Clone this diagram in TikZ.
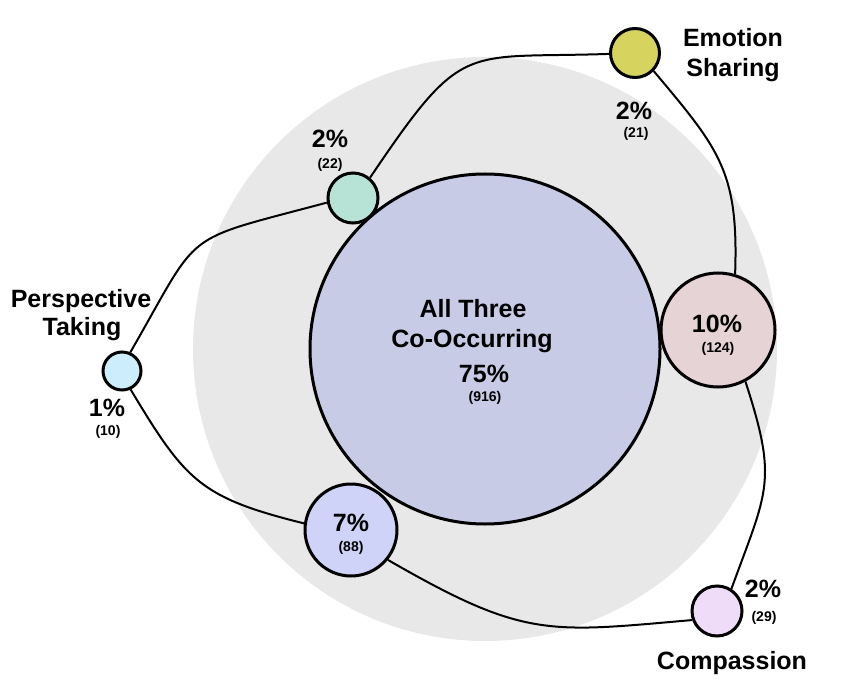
\documentclass[tikz,border=0pt]{standalone}
\usepackage{fontspec}
\setmainfont{Liberation Sans}

\definecolor{ringgray}{HTML}{E8E8E8}
\definecolor{allblue}{HTML}{C8CBE6}
\definecolor{emoyellow}{HTML}{D6D45E}
\definecolor{teal2}{HTML}{B7E3D6}
\definecolor{perblue}{HTML}{CCEEFC}
\definecolor{sevenblue}{HTML}{D0D3F8}
\definecolor{tenrose}{HTML}{E5D3D5}
\definecolor{complilac}{HTML}{EEDCF8}

\begin{document}
\begin{tikzpicture}
        [x=1pt,y=1pt,
        circ/.style={circle,draw,line width=3pt,inner sep=0pt},
        big/.style={font=\fontsize{25}{30}\selectfont\bfseries,anchor=base,inner sep=0pt},
        small/.style={font=\fontsize{14}{16}\selectfont\bfseries,anchor=base,inner sep=0pt},
        link/.style={line width=2pt}]
        \useasboundingbox (0,0) rectangle (845,697);

        % background ring and centre
        \fill[ringgray] (485,348) circle (292);
        \draw[line width=3pt,fill=allblue] (485,348) circle (175);

        % one circle per combination
        \node[circ,fill=emoyellow,minimum size=49pt] (em) at (635,644) {};
        \node[circ,fill=teal2,minimum size=50pt] (tl) at (353,499) {};
        \node[circ,fill=perblue,minimum size=38pt] (pt) at (122,326) {};
        \node[circ,fill=sevenblue,minimum size=92pt] (ch7) at (351,167) {};
        \node[circ,fill=tenrose,minimum size=114pt] (ch10) at (718,367) {};
        \node[circ,fill=complilac,minimum size=50pt] (cp) at (717,86) {};

        \draw[link] (em.182) to[out=182,in=56,out looseness=1.4,in looseness=1.6] (tl.50);
        \draw[link] (tl.190) to[out=195,in=60,out looseness=1.6,in looseness=1.5] (pt.66);
        \draw[link] (pt.-65) to[out=-59,in=166,looseness=1.25] (ch7.172);
        \draw[link] (ch7.-39) to[out=-30,in=185,out looseness=1.3,in looseness=1.2] (cp.200);
        \draw[link] (cp.57) to[out=70,in=-72,looseness=1.3] (ch10.-62);
        \draw[link] (ch10.73) to[out=88,in=-50,looseness=1.2] (em.-44);

        % labels
        \node[big] (emo1) at (733,650) {Emotion};
        \node[big] (emo2) at (733,620) {Sharing};
        \node[big] (emop) at (634,577) {2\%};
        \node[small] (emon) at (636,559) {(21)};

        \node[big] (tlp) at (330,549) {2\%};
        \node[small] (tln) at (330,528) {(22)};

        \node[big] (per1) at (81,390) {Perspective};
        \node[big] (per2) at (82,362) {Taking};
        \node[big] (ptp) at (107,281) {1\%};
        \node[small] (ptn) at (108,262) {(10)};

        \node[big] (c7p) at (351,166) {7\%};
        \node[small] (c7n) at (351,146) {(88)};

        \node[big] (c10p) at (717,365) {10\%};
        \node[small] (c10n) at (718,345) {(124)};

        \node[big] (cpp) at (763,100) {2\%};
        \node[small] (cpn) at (764,76) {(29)};
        \node[big] (comp) at (732,28) {Compassion};

        \node[big] (all1) at (473,380) {All Three};
        \node[big] (all2) at (472,350) {Co-Occurring};
        \node[big] (allp) at (484,315) {75\%};
        \node[small] (alln) at (485,296) {(916)};
    \end{tikzpicture}
\end{document}
